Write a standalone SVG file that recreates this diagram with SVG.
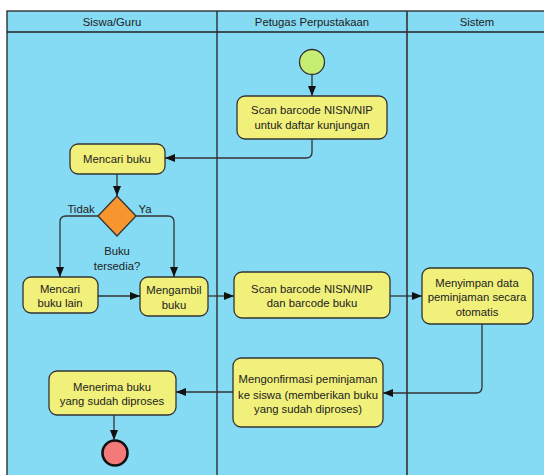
<svg xmlns="http://www.w3.org/2000/svg" width="544" height="475" viewBox="0 0 544 475">
<style>
.lane{fill:#86DBF4;stroke:#222;stroke-width:1.3}
.node{fill:#F0F07A;stroke:#333;stroke-width:1.3}
.t{font-family:"Liberation Sans",Arial,sans-serif;font-size:11.3px;fill:#222;text-anchor:middle}
.edge{fill:none;stroke:#333;stroke-width:1.3}
</style>
<defs>
<marker id="arr" markerUnits="userSpaceOnUse" markerWidth="10" markerHeight="10" viewBox="0 0 10 10" refX="10" refY="5" orient="auto">
<path d="M0,1 L10,5 L0,9 Z" fill="#111"/>
</marker>
</defs>
<rect x="0" y="0" width="544" height="475" fill="#fff"/>
<g id="lanes">
<rect class="lane" x="7" y="11" width="545" height="470"/>
<line x1="7" y1="32" x2="552" y2="32" stroke="#222" stroke-width="1.3"/>
<line x1="217" y1="11" x2="217" y2="481" stroke="#222" stroke-width="1.3"/>
<line x1="407" y1="11" x2="407" y2="481" stroke="#333" stroke-width="1.6"/>
<text class="t" x="112" y="26">Siswa/Guru</text>
<text class="t" x="312" y="26">Petugas Perpustakaan</text>
<text class="t" x="477" y="26">Sistem</text>
</g>
<g id="start"><circle cx="312" cy="62" r="12.5" fill="#C6EE72" stroke="#333" stroke-width="1.3"/></g>
<g id="scan1"><rect class="node" x="237" y="96" width="150" height="43" rx="8"/>
<text class="t" x="312" y="114">Scan barcode NISN/NIP</text>
<text class="t" x="312" y="129">untuk daftar kunjungan</text></g>
<g id="mencari"><rect class="node" x="70" y="144" width="95" height="30" rx="8"/>
<text class="t" x="117" y="163">Mencari buku</text></g>
<g id="decision"><path d="M117,196 L136,216 L117,236 L98,216 Z" fill="#F7962F" stroke="#333" stroke-width="1.3"/>
<text class="t" x="117" y="255">Buku</text>
<text class="t" x="117" y="270">tersedia?</text></g>
<g id="mencariLain"><rect class="node" x="23" y="277" width="75" height="36" rx="8"/>
<text class="t" x="60" y="293">Mencari</text>
<text class="t" x="60" y="307">buku lain</text></g>
<g id="mengambil"><rect class="node" x="140" y="277" width="68" height="39" rx="8"/>
<text class="t" x="174" y="294">Mengambil</text>
<text class="t" x="174" y="309">buku</text></g>
<g id="scan2"><rect class="node" x="234" y="272" width="156" height="46" rx="8"/>
<text class="t" x="312" y="293">Scan barcode NISN/NIP</text>
<text class="t" x="312" y="307">dan barcode buku</text></g>
<g id="menyimpan"><rect class="node" x="422" y="268" width="111" height="56" rx="8"/>
<text class="t" x="477" y="287">Menyimpan data</text>
<text class="t" x="477" y="301">peminjaman secara</text>
<text class="t" x="477" y="316">otomatis</text></g>
<g id="mengonfirmasi"><rect class="node" x="233" y="358" width="150" height="69" rx="8"/>
<text class="t" x="308" y="383">Mengonfirmasi peminjaman</text>
<text class="t" x="308" y="399">ke siswa (memberikan buku</text>
<text class="t" x="308" y="413">yang sudah diproses)</text></g>
<g id="menerima"><rect class="node" x="49" y="371" width="127" height="44" rx="8"/>
<text class="t" x="112" y="391">Menerima buku</text>
<text class="t" x="112" y="405">yang sudah diproses</text></g>
<g id="end"><circle cx="115" cy="453" r="12.5" fill="#F47A7A" stroke="#111" stroke-width="2.6"/></g>
<g id="connectors">
<path class="edge" marker-end="url(#arr)" d="M312,75 L312,96"/>
<path class="edge" marker-end="url(#arr)" d="M312,139 L312,152 Q312,158 306,158 L165,158"/>
<path class="edge" marker-end="url(#arr)" d="M117,174 L117,196"/>
<path class="edge" marker-end="url(#arr)" d="M98,216 L66,216 Q60,216 60,222 L60,277"/>
<path class="edge" marker-end="url(#arr)" d="M136,216 L168,216 Q174,216 174,222 L174,277"/>
<path class="edge" marker-end="url(#arr)" d="M98,296 L140,296"/>
<path class="edge" marker-end="url(#arr)" d="M208,296 L234,296"/>
<path class="edge" marker-end="url(#arr)" d="M390,296 L422,296"/>
<path class="edge" marker-end="url(#arr)" d="M482,324 L482,387 Q482,393 476,393 L383,393"/>
<path class="edge" marker-end="url(#arr)" d="M233,392 L176,392"/>
<path class="edge" marker-end="url(#arr)" d="M114,415 L114,440"/>
<text class="t" x="81" y="213">Tidak</text>
<text class="t" x="145" y="213">Ya</text>
</g>
</svg>
